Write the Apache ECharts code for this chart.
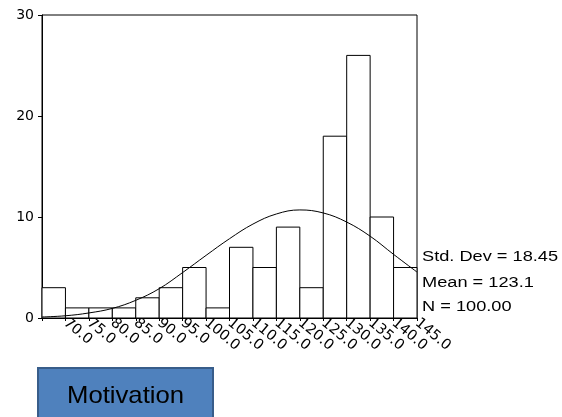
<!DOCTYPE html>
<html lang="en">
<head>
    <meta charset="UTF-8">
    <title>Motivation histogram</title>
    <script type="text/javascript" src="https://cdn.jsdelivr.net/npm/echarts@6/dist/echarts.min.js"></script>
    <style>
        body { margin: 0; background: #fff; }
    </style>
</head>
<body>
<div id="main" style="width:562px;height:417px;"></div>
<script>
    // bin edges (width 5) and counts
    let binStart = [65, 70, 75, 80, 85, 90, 95, 100, 105, 110, 115, 120, 125, 130, 135, 140];
    let binEnd = [70, 75, 80, 85, 90, 95, 100, 105, 110, 115, 120, 125, 130, 135, 140, 145];
    let counts = [3, 1, 1, 1, 2, 3, 5, 1, 7, 5, 9, 3, 18, 26, 10, 5];
    // normal curve
    let curveX = [65, 70, 75, 80, 85, 90, 95, 100, 105, 110, 115, 120, 125, 130, 135, 140, 145];
    let curveY = [0.1, 0.22, 0.5, 0.95, 1.75, 2.9, 4.5, 6.2, 7.85, 9.3, 10.3, 10.7, 10.4, 9.5, 8.1, 6.3, 4.55];
    let statLines = ['Std. Dev = 18.45', 'Mean = 123.1', 'N = 100.00'];

    let myChart = echarts.init(document.getElementById('main'));

    let bars = [];
    for (let i = 0; i < counts.length; i++) {
        bars.push([binStart[i], binEnd[i], counts[i]]);
    }
    let curve = [];
    for (let i = 0; i < curveX.length; i++) {
        curve.push([curveX[i], curveY[i]]);
    }

    let graphics = [];
    let statY = [257, 283, 307];
    statLines.forEach((t, k) => {
        graphics.push({
            type: 'text', x: 422, y: statY[k], scaleX: 1.3,
            style: { text: t, fill: '#000', font: '14px "Liberation Sans", Arial', textAlign: 'left', textVerticalAlign: 'middle' }
        });
    });
    //蓝色标签
    graphics.push({
        type: 'rect',
        shape: { x: 38, y: 368, width: 175, height: 60 },
        style: { fill: '#4F81BD', stroke: '#385D8A', lineWidth: 2 }
    });
    graphics.push({
        type: 'text', x: 67, y: 396, scaleX: 1.07,
        style: { text: 'Motivation', fill: '#000', font: '24px "Liberation Sans", Arial', textAlign: 'left', textVerticalAlign: 'middle' }
    });

    let option = {
        animation: false,
        backgroundColor: '#fff',
        grid: { left: 42, right: 145, top: 15, bottom: 99, show: true, borderColor: '#000', borderWidth: 1 },
        xAxis: {
            type: 'value', min: 65, max: 145, interval: 5,
            splitLine: { show: false },
            axisLine: { show: true, lineStyle: { color: '#000' } },
            axisTick: { show: true, length: 3, lineStyle: { color: '#000' } },
            axisLabel: {
                rotate: -40, margin: 3, color: '#000',
                fontFamily: 'DejaVu Sans', fontSize: 14.5,
                showMaxLabel: true, showMinLabel: true,
                formatter: v => v === 65 ? '' : v.toFixed(1)
            }
        },
        yAxis: {
            type: 'value', min: 0, max: 30, interval: 10,
            splitLine: { show: false },
            axisLine: { show: true, lineStyle: { color: '#000' } },
            axisTick: { show: true, length: 4, lineStyle: { color: '#000' } },
            axisLabel: { color: '#000', fontFamily: 'DejaVu Sans', fontSize: 14, margin: 8 }
        },
        series: [
            {
                type: 'custom',
                data: bars,
                z: 2,
                renderItem: (params, api) => {
                    let p0 = api.coord([api.value(0), api.value(2)]);
                    let p1 = api.coord([api.value(1), 0]);
                    return {
                        type: 'rect',
                        shape: { x: p0[0], y: p0[1], width: p1[0] - p0[0], height: p1[1] - p0[1] },
                        style: { fill: '#fff', stroke: '#000', lineWidth: 1 }
                    };
                }
            },
            {
                type: 'line',
                data: curve,
                z: 5,
                smooth: 0.4,
                symbol: 'none',
                lineStyle: { color: '#000', width: 1 }
            }
        ],
        graphic: graphics
    };
    myChart.setOption(option);
</script>
</body>
</html>
